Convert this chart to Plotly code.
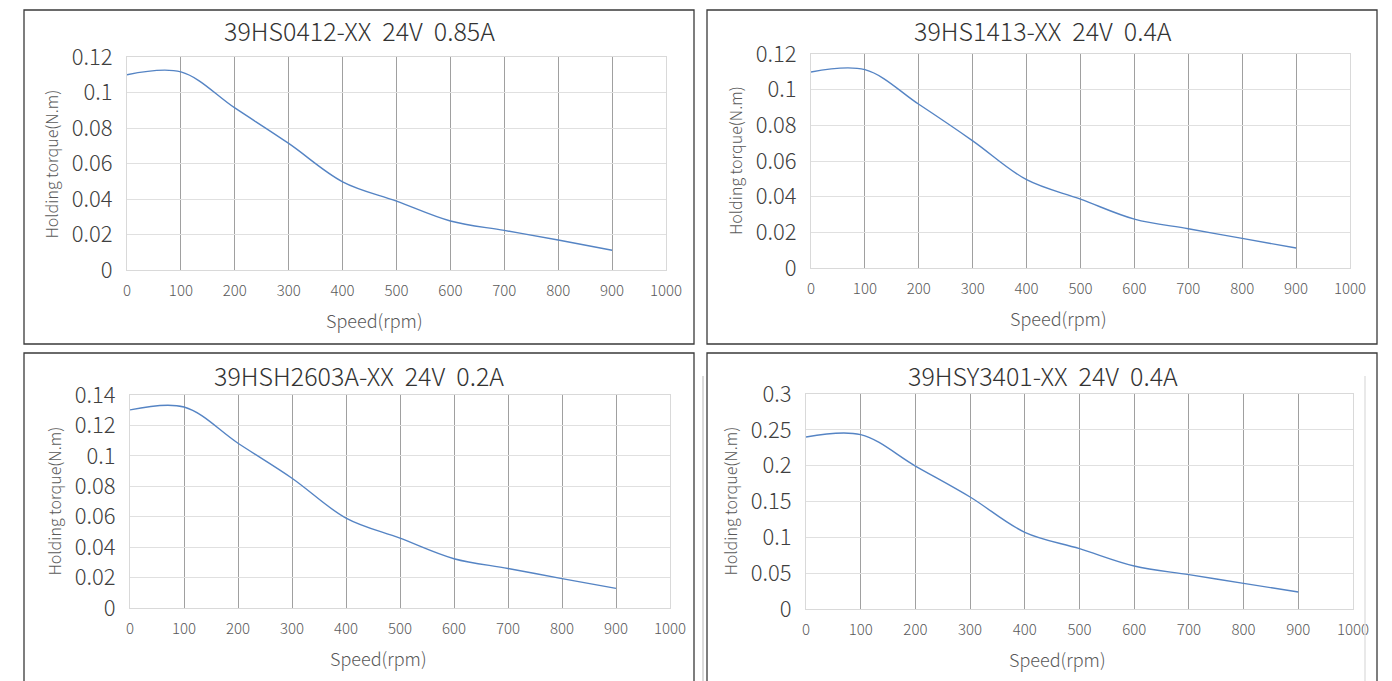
import plotly.graph_objects as go

# speed points (rpm) and holding torque
speed = [0, 100, 200, 300, 400, 500, 600, 700, 800, 900]
torque_39hs0412 = [0.110, 0.1116, 0.0913, 0.0713, 0.0497, 0.0388, 0.0276, 0.0223, 0.0169, 0.0111]
torque_39hs1413 = [0.1099, 0.1112, 0.0918, 0.0713, 0.0495, 0.0386, 0.0274, 0.0220, 0.0166, 0.0112]
torque_39hsh2603a = [0.1302, 0.1321, 0.1083, 0.0853, 0.0591, 0.0459, 0.0324, 0.0260, 0.0193, 0.0129]
torque_39hsy3401 = [0.240, 0.2433, 0.1995, 0.1563, 0.107, 0.0842, 0.060, 0.0479, 0.0358, 0.0237]

titles = ["39HS0412-XX  24V  0.85A", "39HS1413-XX  24V  0.4A",
          "39HSH2603A-XX  24V  0.2A", "39HSY3401-XX  24V  0.4A"]

x_ticks = [0, 100, 200, 300, 400, 500, 600, 700, 800, 900, 1000]
y_ticks_012 = [0, 0.02, 0.04, 0.06, 0.08, 0.1, 0.12]
y_text_012 = ["0", "0.02", "0.04", "0.06", "0.08", "0.1", "0.12"]
y_ticks_014 = [0, 0.02, 0.04, 0.06, 0.08, 0.1, 0.12, 0.14]
y_text_014 = ["0", "0.02", "0.04", "0.06", "0.08", "0.1", "0.12", "0.14"]
y_ticks_03 = [0, 0.05, 0.1, 0.15, 0.2, 0.25, 0.3]
y_text_03 = ["0", "0.05", "0.1", "0.15", "0.2", "0.25", "0.3"]

W, H = 1392, 681
FONT = "Noto Sans CJK SC"


def fx(x):
    return x / W


def fy(y):
    return 1 - y / H


# pixel boxes: plot area (x0, x1, ytop, ybottom), border (x0, x1, y0, y1), title pos
panels = [
    dict(data=torque_39hs0412, ymax=0.12, yt=y_ticks_012, ytt=y_text_012,
         plot=(127, 666, 57, 270), box=(24, 694, 10, 344), tx=359, ty=30),
    dict(data=torque_39hs1413, ymax=0.12, yt=y_ticks_012, ytt=y_text_012,
         plot=(811, 1350, 54, 268), box=(707, 1377, 10, 344), tx=1043, ty=30),
    dict(data=torque_39hsh2603a, ymax=0.14, yt=y_ticks_014, ytt=y_text_014,
         plot=(130, 670, 395, 608), box=(24, 694, 353, 700), tx=359, ty=375),
    dict(data=torque_39hsy3401, ymax=0.3, yt=y_ticks_03, ytt=y_text_03,
         plot=(806, 1353, 394, 609), box=(707, 1377, 353, 700), tx=1043, ty=375),
]

fig = go.Figure()
layout = {}
annotations = []
shapes = []

for i, p in enumerate(panels):
    n = "" if i == 0 else str(i + 1)
    x0, x1, yt, yb = p["plot"]
    fig.add_trace(go.Scatter(
        x=speed, y=p["data"], mode="lines",
        line=dict(color="#5584c4", width=1.4, shape="spline", smoothing=1.0),
        xaxis="x" + n, yaxis="y" + n, showlegend=False))

    layout["xaxis" + n] = dict(
        domain=[fx(x0), fx(x1)], anchor="y" + n, range=[0, 1000],
        tickvals=x_ticks, ticktext=[str(v) for v in x_ticks],
        showgrid=True, gridcolor="#a0a0a0", gridwidth=1,
        showline=True, mirror=True, linecolor="#d9d9d9", linewidth=1,
        zeroline=False, ticks="", automargin=False, ticklabelstandoff=7,
        tickfont=dict(family=FONT, size=15, color="#595959", weight=300))
    layout["yaxis" + n] = dict(
        domain=[fy(yb), fy(yt)], anchor="x" + n, range=[0, p["ymax"]],
        tickvals=p["yt"], ticktext=p["ytt"],
        showgrid=True, gridcolor="#e0e0e0", gridwidth=1,
        showline=True, mirror=True, linecolor="#d9d9d9", linewidth=1,
        zeroline=False, ticks="", automargin=False, ticklabelstandoff=9,
        tickfont=dict(family=FONT, size=22, color="#404040", weight=300))

    bx0, bx1, by0, by1 = p["box"]
    shapes.append(dict(type="rect", xref="paper", yref="paper",
                       x0=fx(bx0), x1=fx(bx1), y0=fy(by1), y1=fy(by0),
                       line=dict(color="#3a3a3a", width=1.3)))

    annotations.append(dict(text=titles[i], x=fx(p["tx"]), y=fy(p["ty"]),
                            xref="paper", yref="paper", showarrow=False,
                            xanchor="center", yanchor="middle",
                            font=dict(family=FONT, size=25, color="#333333", weight=300)))
    annotations.append(dict(text="Speed(rpm)", x=fx((x0 + x1) / 2 - 22), y=fy(yb + 50),
                            xref="paper", yref="paper", showarrow=False,
                            xanchor="center", yanchor="middle",
                            font=dict(family=FONT, size=18, color="#595959", weight=300)))
    annotations.append(dict(text="Holding torque(N.m)", x=fx(x0 - 76), y=fy((yt + yb) / 2),
                            xref="paper", yref="paper", showarrow=False, textangle=-90,
                            xanchor="center", yanchor="middle",
                            font=dict(family=FONT, size=16, color="#595959", weight=300)))

# faint scan lines at the edges of the lower right panel
for sx, col in [(703, "#cfcfcf"), (1365, "#e2e2e2")]:
    shapes.append(dict(type="line", xref="paper", yref="paper",
                       x0=fx(sx), x1=fx(sx), y0=fy(681), y1=fy(376),
                       line=dict(color=col, width=1.5)))

fig.update_layout(
    width=W, height=H,
    margin=dict(l=0, r=0, t=0, b=0),
    paper_bgcolor="white", plot_bgcolor="white",
    annotations=annotations, shapes=shapes,
    **layout)

fig.write_html("out.html", config={"displayModeBar": False},
               post_script="document.body.style.margin='0px';")
